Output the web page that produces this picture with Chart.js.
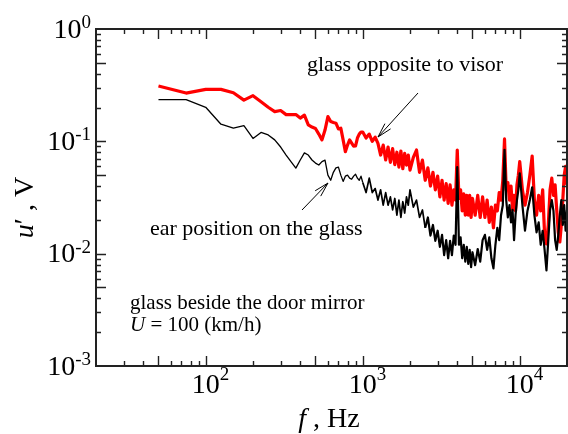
<!DOCTYPE html>
<html><head><meta charset="utf-8">
<script src="https://cdn.jsdelivr.net/npm/chart.js@4/dist/chart.umd.min.js"></script>
<style>html,body{margin:0;padding:0;background:#fff;}#wrap{width:568px;height:434px;position:relative;}</style>
</head><body><div id="wrap"><canvas id="c" width="568" height="434"></canvas></div>
<script>
// frequency, Hz
const freqHz = [50,75,100,125,150,175,200,225,250,275,300,325,350,375,400,425,450,475,500,525,550,575,600,625,650,675,700,725,750,775,800,825,850,875,900,925,950,975,1000,
1050,1100,1150,1200,1250,1300,1350,1400,1450,1500,1550,1600,1650,1700,1750,1800,1850,1900,1950,2000,
2100,2200,2300,2400,2500,2600,2700,2800,2900,3000,3100,3200,3300,3400,3500,3600,3700,3800,3900,4000,4100,4200,4300,4400,4500,4600,4700,4800,4900,5000,
5200,5400,5600,5800,6000,6200,6400,6600,6800,7000,7200,7400,7600,7800,8000,8200,8400,8600,8800,9000,9200,9400,9600,9800,10000,
10400,10800,11200,11600,12000,12400,12800,13200,13600,14000,14400,14800,15200,15600,16000,16400,16800,17200,17600,18000,18400,18800,19200,19600,20000];

// u', V : glass opposite to visor (red)
const glassOppositeVisor = [0.311,0.269,0.290,0.290,0.271,0.233,0.255,0.225,0.201,0.184,0.188,0.173,0.173,0.173,0.161,0.171,0.140,0.134,0.130,0.116,0.103,0.126,0.166,0.150,0.147,0.145,0.129,0.131,0.103,0.0808,0.0927,0.103,0.0966,0.0908,0.091,0.107,0.116,0.121,0.121,
0.107,0.116,0.100,0.109,0.096,0.0755,0.0927,0.0682,0.089,0.065,0.086,0.062,0.080,0.059,0.082,0.057,0.078,0.0615,0.0755,0.0555,
0.072,0.0837,0.053,0.068,0.045,0.058,0.040,0.053,0.037,0.049,0.032,0.045,0.030,0.042,0.028,0.041,0.027,0.037,0.030,0.0837,0.031,0.037,0.024,0.034,0.022,0.033,0.022,0.033,0.021,0.031,
0.022,0.033,0.021,0.032,0.021,0.030,0.019,0.026,0.017,0.027,0.024,0.035,0.030,0.045,0.105,0.037,0.043,0.030,0.040,0.0245,0.033,0.024,0.041,0.050,0.066,
0.037,0.027,0.035,0.050,0.074,0.030,0.022,0.033,0.024,0.037,0.0147,0.0122,0.018,0.037,0.047,0.033,0.041,0.0245,0.0155,0.0127,0.018,0.030,0.050,0.060,0.041];

// u', V : ear position on the glass (black)
const earPosition = [0.235,0.235,0.201,0.142,0.131,0.138,0.106,0.120,0.114,0.103,0.089,0.0755,0.0655,0.0578,0.0682,0.079,0.0755,0.0682,0.064,0.0615,0.066,0.068,0.050,0.045,0.053,0.058,0.059,0.050,0.044,0.049,0.050,0.047,0.046,0.049,0.051,0.047,0.045,0.049,0.043,
0.035,0.047,0.035,0.038,0.030,0.037,0.027,0.035,0.027,0.032,0.0245,0.031,0.022,0.030,0.021,0.029,0.023,0.032,0.027,0.037,
0.026,0.030,0.021,0.0245,0.017,0.021,0.0145,0.018,0.013,0.016,0.0115,0.0147,0.0097,0.0132,0.0091,0.013,0.0097,0.0145,0.012,0.059,0.012,0.014,0.0091,0.012,0.0085,0.0115,0.0081,0.0108,0.0076,0.0103,
0.0079,0.011,0.0085,0.0132,0.0147,0.0108,0.014,0.0091,0.0074,0.012,0.017,0.0132,0.022,0.027,0.084,0.030,0.021,0.027,0.019,0.0245,0.0132,0.022,0.030,0.037,0.052,
0.027,0.016,0.024,0.030,0.039,0.022,0.0155,0.019,0.012,0.016,0.0108,0.0071,0.0132,0.0245,0.030,0.024,0.0132,0.0108,0.0147,0.022,0.030,0.018,0.027,0.016,0.0245];

// tick labels (10^n)
const xTickValues = [100, 1000, 10000];
const xTickExp = ['2', '3', '4'];
const yTickValues = [1, 0.1, 0.01, 0.001];
const yTickExp = ['0', '-1', '-2', '-3'];

const SERIF = '"Liberation Serif", "Times New Roman", serif';

const decor = {
  id: 'decor',
  afterDatasetsDraw(chart) {
    const {ctx, chartArea: a, scales: {x, y}} = chart;
    ctx.save();
    ctx.strokeStyle = '#222';
    ctx.lineWidth = 1.4;
    ctx.beginPath();
    for (let k = 1; k <= 4; k++) for (let m = 1; m <= 9; m++) {
      const v = Number((m * Math.pow(10, k)).toPrecision(3));
      if (v <= x.min || v >= x.max) continue;
      const px = Math.round(x.getPixelForValue(v)) + 0.5;
      const L = (m === 1 || m === 5) ? 10 : 5;
      ctx.moveTo(px, a.bottom); ctx.lineTo(px, a.bottom - L);
      ctx.moveTo(px, a.top); ctx.lineTo(px, a.top + L);
    }
    for (let k = -3; k <= -1; k++) for (let m = 1; m <= 9; m++) {
      const v = Number((m * Math.pow(10, k)).toPrecision(3));
      if (v <= y.min || v >= y.max) continue;
      const py = Math.round(y.getPixelForValue(v)) + 0.5;
      const L = (m === 1 || m === 5) ? 10 : 5;
      ctx.moveTo(a.left, py); ctx.lineTo(a.left + L, py);
      ctx.moveTo(a.right, py); ctx.lineTo(a.right - L, py);
    }
    ctx.stroke();
    ctx.lineWidth = 2;
    ctx.strokeRect(a.left, a.top, a.right - a.left, a.bottom - a.top);

    // tick labels
    ctx.fillStyle = '#000';
    ctx.textAlign = 'left';
    ctx.textBaseline = 'alphabetic';
    yTickValues.forEach((v, i) => {
      const py = y.getPixelForValue(v);
      ctx.font = '28px ' + SERIF;
      const bw = ctx.measureText('10').width;
      ctx.font = '19px ' + SERIF;
      const ew = ctx.measureText(yTickExp[i]).width;
      const right = 91;
      ctx.font = '28px ' + SERIF;
      ctx.fillText('10', right - ew - bw, py + 8.5);
      ctx.font = '19px ' + SERIF;
      ctx.fillText(yTickExp[i], right - ew, py - 1);
    });
    xTickValues.forEach((v, i) => {
      const px = x.getPixelForValue(v);
      ctx.font = '28px ' + SERIF;
      const bw = ctx.measureText('10').width;
      ctx.fillText('10', px - bw / 2, 393);
      ctx.font = '19px ' + SERIF;
      ctx.fillText(xTickExp[i], px + bw / 2, 380);
    });

    // axis titles
    ctx.font = 'italic 28px ' + SERIF;
    const fW = ctx.measureText('f').width;
    ctx.font = '28px ' + SERIF;
    const restX = ' , Hz';
    const rW = ctx.measureText(restX).width;
    let sx = 329 - (fW + rW) / 2;
    ctx.font = 'italic 28px ' + SERIF;
    ctx.fillText('f', sx, 427);
    ctx.font = '28px ' + SERIF;
    ctx.fillText(restX, sx + fW, 427);

    ctx.save();
    ctx.translate(33, 207.5);
    ctx.rotate(-Math.PI / 2);
    ctx.font = 'italic 28px ' + SERIF;
    const uW = ctx.measureText('u').width;
    ctx.font = '28px ' + SERIF;
    const restY = '\u2032 , V';
    const ryW = ctx.measureText(restY).width;
    sx = -(uW + ryW) / 2;
    ctx.font = 'italic 28px ' + SERIF;
    ctx.fillText('u', sx, 0);
    ctx.font = '28px ' + SERIF;
    ctx.fillText(restY, sx + uW, 0);
    ctx.restore();

    // annotations
    ctx.font = '22px ' + SERIF;
    ctx.fillText('glass opposite to visor', 307, 71);
    ctx.fillText('ear position on the glass', 150, 235);
    ctx.font = '21px ' + SERIF;
    ctx.fillText('glass beside the door mirror', 130, 309);
    ctx.font = 'italic 21px ' + SERIF;
    const UW = ctx.measureText('U').width;
    ctx.fillText('U', 130, 331);
    ctx.font = '21px ' + SERIF;
    ctx.fillText(' = 100 (km/h)', 130 + UW, 331);

    // arrows
    const arrow = (x0, y0, x1, y1) => {
      ctx.beginPath();
      ctx.moveTo(x0, y0); ctx.lineTo(x1, y1);
      const ang = Math.atan2(y1 - y0, x1 - x0);
      const hl = 15, ha = 0.26;
      ctx.moveTo(x1, y1); ctx.lineTo(x1 - hl * Math.cos(ang - ha), y1 - hl * Math.sin(ang - ha));
      ctx.moveTo(x1, y1); ctx.lineTo(x1 - hl * Math.cos(ang + ha), y1 - hl * Math.sin(ang + ha));
      ctx.stroke();
    };
    ctx.strokeStyle = '#000';
    ctx.lineWidth = 1;
    arrow(418, 93, 378, 137);
    arrow(302, 210, 328, 183);
    ctx.restore();
  }
};

new Chart(document.getElementById('c'), {
  type: 'line',
  data: {
    datasets: [
      {
        label: 'ear position on the glass',
        data: freqHz.map((f, i) => ({x: f, y: earPosition[i]})),
        borderColor: '#000',
        borderWidth: 1.3,
        segment: { borderWidth: c => c.p0.parsed.x >= 2500 ? 2.2 : (c.p0.parsed.x >= 1000 ? 1.7 : 1.3) },
        pointRadius: 0, tension: 0, borderJoinStyle: 'round', fill: false, order: 0
      },
      {
        label: 'glass opposite to visor',
        data: freqHz.map((f, i) => ({x: f, y: glassOppositeVisor[i]})),
        borderColor: '#ff0000',
        borderWidth: 3.2,
        pointRadius: 0, tension: 0, borderJoinStyle: 'round', fill: false, order: 1
      }
    ]
  },
  options: {
    responsive: false,
    animation: false,
    devicePixelRatio: 1,
    layout: { padding: { left: 96, top: 29, right: 1, bottom: 68 } },
    plugins: { legend: { display: false }, tooltip: { enabled: false } },
    scales: {
      x: { type: 'logarithmic', min: 20, max: 20000, bounds: 'data', display: false },
      y: { type: 'logarithmic', min: 0.001, max: 1, bounds: 'data', display: false }
    }
  },
  plugins: [decor]
});
</script>
</body></html>
